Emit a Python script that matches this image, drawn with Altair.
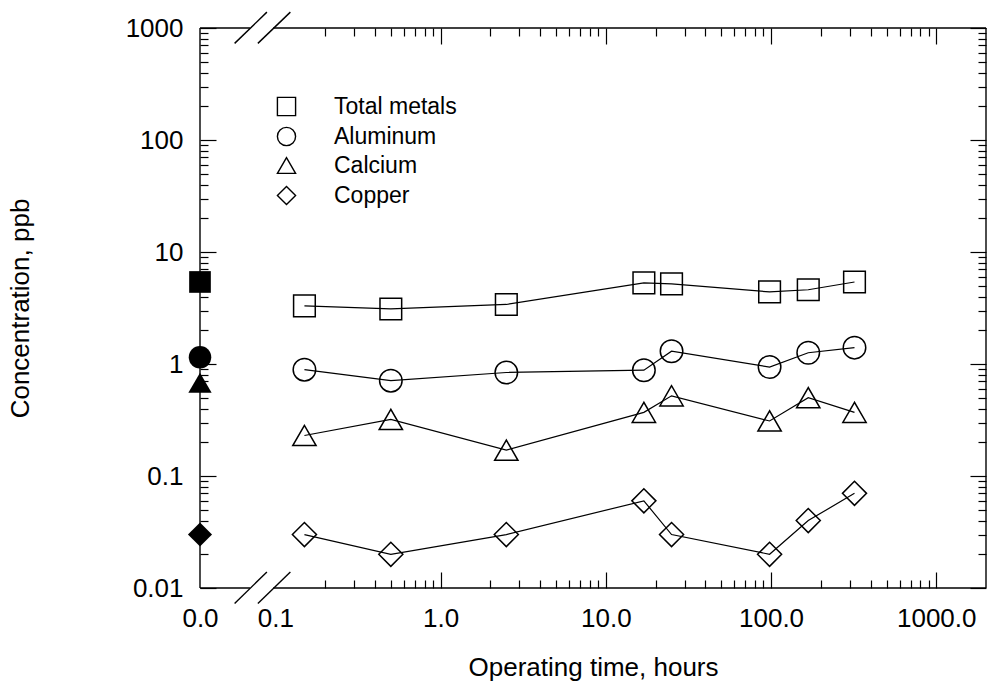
import altair as alt
import pandas as pd

# ---------------- data ----------------
hours = [0.15, 0.5, 2.5, 17, 25, 98, 168, 320]
series_names = ["Total metals", "Aluminum", "Calcium", "Copper"]
total_metals = [3.3, 3.1, 3.4, 5.3, 5.2, 4.4, 4.6, 5.4]
aluminum = [0.89, 0.71, 0.84, 0.88, 1.30, 0.94, 1.26, 1.40]
calcium = [0.23, 0.32, 0.17, 0.37, 0.52, 0.31, 0.50, 0.37]
copper = [0.03, 0.02, 0.03, 0.06, 0.03, 0.02, 0.04, 0.07]
initial_values = [5.4, 1.15, 0.68, 0.03]  # values at 0.0 h (filled symbols)

x_label_values = [0.035, 0.1, 1, 10, 100, 1000]
y_label_values = [0.01, 0.1, 1, 10, 100, 1000]

# ---------------- scales / layout constants ----------------
XMIN, XMAX = 0.035, 2000
YMIN, YMAX = 0.01, 1000
W, H = 786, 560
FONT = "Liberation Sans"

x_major = [1, 10, 100, 1000]
x_minor = [m * d for d in [0.1, 1, 10, 100] for m in range(2, 10)]
y_major = [0.01, 0.1, 1, 10, 100, 1000]
y_minor = [m * d for d in [0.01, 0.1, 1, 10, 100] for m in range(2, 10)]

shapes = ["square", "circle", "triangle-up", "diamond"]
sizes = [330, 410, 470, 580]

xs = alt.Scale(type="log", domain=[XMIN, XMAX], nice=False)
ys = alt.Scale(type="log", domain=[YMIN, YMAX], nice=False)
shape_scale = alt.Scale(domain=series_names, range=shapes)
# (reversed order so that the size scale is not merged with the shape legend)
size_scale = alt.Scale(domain=series_names[::-1], range=sizes[::-1])

# ---------------- tables ----------------
vals = {"Total metals": total_metals, "Aluminum": aluminum,
        "Calcium": calcium, "Copper": copper}
rows = []
for s in series_names:
    for h, v in zip(hours, vals[s]):
        rows.append({"hours": h, "conc": v, "series": s})
df = pd.DataFrame(rows)

df0 = pd.DataFrame({"hours": [XMIN] * 4, "conc": initial_values,
                    "series": series_names})

# break positions on the x axis (data units)
XB1, XB2 = 0.0702, 0.0971
frame = pd.DataFrame({
    "x": [XMIN, XMAX, XMIN, XB2, XMIN, XB2],
    "x2": [XMIN, XMAX, XB1, XMAX, XB1, XMAX],
    "y": [YMIN, YMIN, YMAX, YMAX, YMIN, YMIN],
    "y2": [YMAX, YMAX, YMAX, YMAX, YMIN, YMIN],
})
slashes = pd.DataFrame({
    "x": [0.0567, 0.0784, 0.0567, 0.0784],
    "x2": [0.0889, 0.1233, 0.0889, 0.1233],
    "y": [729, 729, 0.00726, 0.00726],
    "y2": [1386, 1386, 0.0139, 0.0139],
})


def tick_axis(orient, offset, values, size):
    return alt.Axis(orient=orient, offset=offset, values=values, labels=False,
                    domain=False, grid=False, title=None, ticks=True,
                    tickColor="black", tickWidth=1.2, tickSize=size)


label_x_axis = alt.Axis(orient="bottom", values=x_label_values, format=".1f",
                        ticks=False, domain=False, grid=False,
                        labelFontSize=26, labelFont=FONT, labelColor="black",
                        labelPadding=17, labelFlush=False, labelOverlap=False,
                        title="Operating time, hours", titleFont=FONT,
                        titleFontSize=26, titleFontWeight="normal",
                        titleColor="black", titleY=66, titleBaseline="top")
label_y_axis = alt.Axis(orient="left", values=y_label_values, format="~g",
                        ticks=False, domain=False, grid=False,
                        labelFontSize=26, labelFont=FONT, labelColor="black",
                        labelPadding=17, labelFlush=False, labelOverlap=False,
                        title="Concentration, ppb", titleFont=FONT,
                        titleFontSize=26, titleFontWeight="normal",
                        titleColor="black", titleX=-180, titleY=H / 2,
                        titleAngle=-90, titleBaseline="middle",
                        titleAlign="center")

frame_layer = alt.Chart(frame).mark_rule(color="black", strokeWidth=1.4).encode(
    x=alt.X("x:Q", scale=xs, axis=label_x_axis),
    x2="x2:Q",
    y=alt.Y("y:Q", scale=ys, axis=label_y_axis),
    y2="y2:Q",
)

line_layer = alt.Chart(df).mark_line(color="black", strokeWidth=1.2).encode(
    x=alt.X("hours:Q", scale=xs, axis=tick_axis("top", -H, x_major, 16)),
    y=alt.Y("conc:Q", scale=ys, axis=tick_axis("right", -W, y_major, 16)),
    detail="series:N",
)

legend = alt.Legend(orient="none", legendX=75, legendY=67, title=None,
                    padding=0, labelFontSize=23, labelFont=FONT,
                    labelColor="black", symbolSize=330,
                    symbolStrokeColor="black", symbolStrokeWidth=1.4,
                    symbolFillColor="transparent", labelOffset=36,
                    rowPadding=5)

hollow_layer = alt.Chart(df).mark_point(
    filled=False, color="black", strokeWidth=1.5, opacity=1).encode(
    x=alt.X("hours:Q", scale=xs, axis=tick_axis("top", -H, x_minor, 8)),
    y=alt.Y("conc:Q", scale=ys, axis=tick_axis("right", -W, y_minor, 8)),
    shape=alt.Shape("series:N", scale=shape_scale, legend=legend),
    size=alt.Size("series:N", scale=size_scale, legend=None),
)

filled_layer = alt.Chart(df0).mark_point(
    filled=True, color="black", opacity=1).encode(
    x=alt.X("hours:Q", scale=xs, axis=tick_axis("bottom", -H, x_major, 16)),
    y=alt.Y("conc:Q", scale=ys, axis=tick_axis("left", -W, y_major, 16)),
    shape=alt.Shape("series:N", scale=shape_scale, legend=None),
    size=alt.Size("series:N", scale=size_scale, legend=None),
)

slash_layer = alt.Chart(slashes).mark_rule(color="black", strokeWidth=1.4).encode(
    x=alt.X("x:Q", scale=xs, axis=tick_axis("bottom", -H, x_minor, 8)),
    x2="x2:Q",
    y=alt.Y("y:Q", scale=ys, axis=tick_axis("left", -W, y_minor, 8)),
    y2="y2:Q",
)

chart = alt.layer(
    frame_layer, line_layer, hollow_layer, filled_layer, slash_layer
).resolve_axis(
    x="independent", y="independent"
).resolve_legend(
    shape="independent", size="independent"
).properties(
    width=W, height=H,
    padding={"left": 200, "top": 28, "right": 1, "bottom": 104},
    autosize=alt.AutoSizeParams(type="none"),
    background="white",
).configure_view(stroke=None)

chart.save("out.html", embed_options={"renderer": "svg", "actions": False})
